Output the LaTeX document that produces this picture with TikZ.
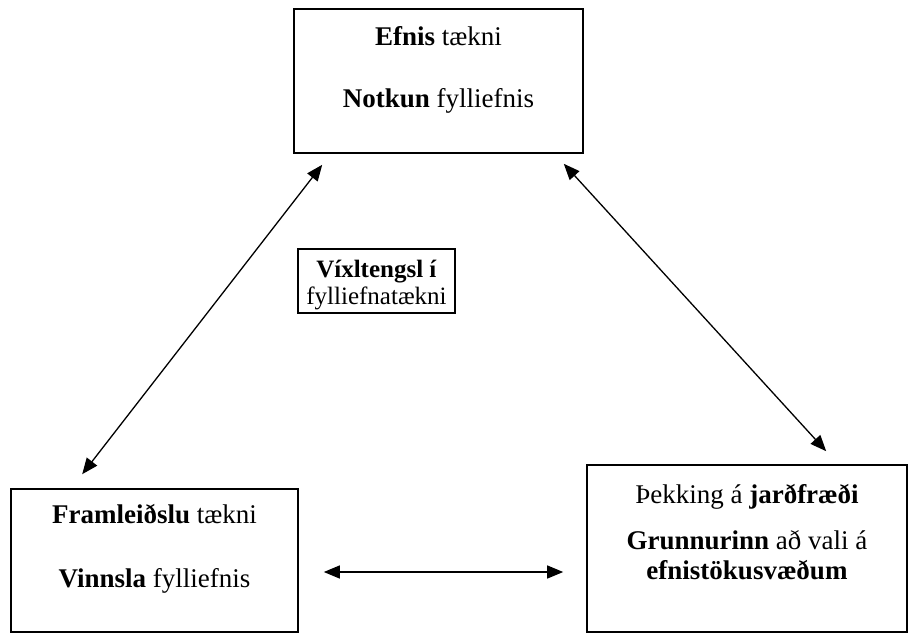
\documentclass[tikz,border=0pt]{standalone}
\usepackage{fontspec}
\setmainfont{Liberation Serif}
\usetikzlibrary{arrows.meta}
\tikzset{
  box/.style={draw,line width=1.6pt,inner sep=0pt},
  boxtext/.style={anchor=north,align=center,inner sep=0pt,font=\fontsize{27}{30}\selectfont},
  link/.style={{Triangle[length=16pt,width=13pt]}-{Triangle[length=16pt,width=13pt]},line width=1.3pt}
}
\begin{document}
\begin{tikzpicture}[x=1pt,y=-1pt]
  \useasboundingbox (0,0) rectangle (911,633);
  % boxes
  \node[box,minimum width=289pt,minimum height=144pt] (efnis) at (438.5,81) {};
  \node[box,minimum width=157pt,minimum height=64pt] (vixl) at (376.5,281) {};
  \node[box,minimum width=287pt,minimum height=143pt] (framl) at (154.5,560.5) {};
  \node[box,minimum width=320pt,minimum height=167pt] (jard) at (747,548.5) {};
  % texts
  \node[boxtext] (efnistxt) at ([yshift=-18pt]efnis.north)
    {\textbf{Efnis} tækni\\[32pt]\textbf{Notkun} fylliefnis};
  \node[boxtext,font=\fontsize{25}{27}\selectfont] (vixltxt) at ([yshift=-12pt]vixl.north)
    {\textbf{Víxltengsl í}\\fylliefnatækni};
  \node[boxtext] (framltxt) at ([yshift=-16pt]framl.north)
    {\textbf{Framleiðslu} tækni\\[34pt]\textbf{Vinnsla} fylliefnis};
  \node[boxtext] (jardtxt) at ([yshift=-20pt]jard.north)
    {Þekking á \textbf{jarðfræði}\\[16pt]\textbf{Grunnurinn} að vali á\\\textbf{efnistökusvæðum}};
  % arrows
  \draw[link] ([shift={(29,11)}]efnis.south west) -- ([shift={(72,-14)}]framl.north west);
  \draw[link] ([shift={(-20,10)}]efnis.south east) -- ([shift={(240,-13)}]jard.north west);
  \draw[link] ([xshift=25pt]framl.east |- 0,572) -- ([xshift=-23pt]jard.west |- 0,572);
\end{tikzpicture}
\end{document}
